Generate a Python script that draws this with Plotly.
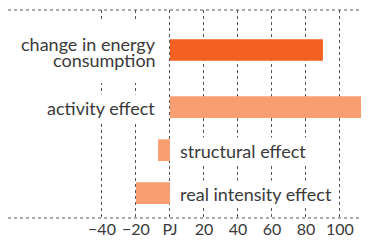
import plotly.graph_objects as go

# data
categories = ["change in energy consumption", "activity effect", "structural effect", "real intensity effect"]
values_pj = [90, 120, -7, -20]
bar_colors = ["#F26022", "#F89E70", "#F89E70", "#F89E70"]
tick_values = [-40, -20, 0, 20, 40, 60, 80, 100]
tick_labels = ["\u221240", "\u221220", "PJ", "20", "40", "60", "80", "100"]

# layout of rows (uneven spacing like reference)
row_pos = [0, 1.33, 2.33, 3.33]

FONT = "Lato"
TXT = "#3a3a3a"
GRID = "#555555"

fig = go.Figure()
fig.add_trace(go.Bar(
    x=values_pj, y=row_pos, orientation="h",
    marker=dict(color=bar_colors, line=dict(width=0)),
    width=0.505, hoverinfo="skip",
))

ann = []
# first label in two lines (white rect shape behind it)
ann.append(dict(x=0, y=row_pos[0], xref="x", yref="y", text="change in energy",
                xanchor="right", yanchor="middle", xshift=-12, yshift=6,
                showarrow=False,
                font=dict(family=FONT, size=18, color=TXT)))
ann.append(dict(x=0, y=row_pos[0], xref="x", yref="y", text="consumption",
                xanchor="right", yanchor="middle", xshift=-12, yshift=-10,
                showarrow=False,
                font=dict(family=FONT, size=18, color=TXT)))
ann.append(dict(x=0, y=row_pos[1], xref="x", yref="y", text=categories[1],
                xanchor="right", yanchor="middle", xshift=-12, yshift=-1,
                showarrow=False, bgcolor="white", borderpad=2,
                font=dict(family=FONT, size=18, color=TXT)))
for i in (2, 3):
    ann.append(dict(x=0, y=row_pos[i], xref="x", yref="y", text=categories[i],
                    xanchor="left", yanchor="middle", xshift=7, yshift=-1,
                    showarrow=False, bgcolor="white", borderpad=2,
                    font=dict(family=FONT, size=18, color=TXT)))

shapes = [
    dict(type="rect", xref="x", yref="y", x0=-95.3, x1=-6, y0=-0.70, y1=0.77,
         fillcolor="white", line=dict(width=0), layer="above"),
    dict(type="line", xref="paper", yref="paper", x0=0, x1=1, y0=1, y1=1,
         line=dict(color=GRID, width=1, dash="dot")),
    dict(type="line", xref="paper", yref="paper", x0=0, x1=1, y0=0, y1=0,
         line=dict(color=GRID, width=1, dash="dot")),
]

fig.update_layout(
    width=361, height=237,
    margin=dict(l=0, r=0, t=2, b=27),
    paper_bgcolor="white", plot_bgcolor="white",
    showlegend=False,
    annotations=ann, shapes=shapes,
    font=dict(family=FONT, color=TXT),
    xaxis=dict(range=[-95.3, 117.1], tickvals=tick_values, ticktext=tick_labels,
               showgrid=True, gridcolor=GRID, gridwidth=1, griddash="dot",
               zeroline=False, showline=False, ticks="",
               tickfont=dict(family=FONT, size=16, color=TXT), fixedrange=True),
    yaxis=dict(range=[3.907, -0.930], showticklabels=False, showgrid=False,
               zeroline=False, showline=False, ticks="", fixedrange=True),
)

fig.write_html("out.html", config={"displayModeBar": False})
